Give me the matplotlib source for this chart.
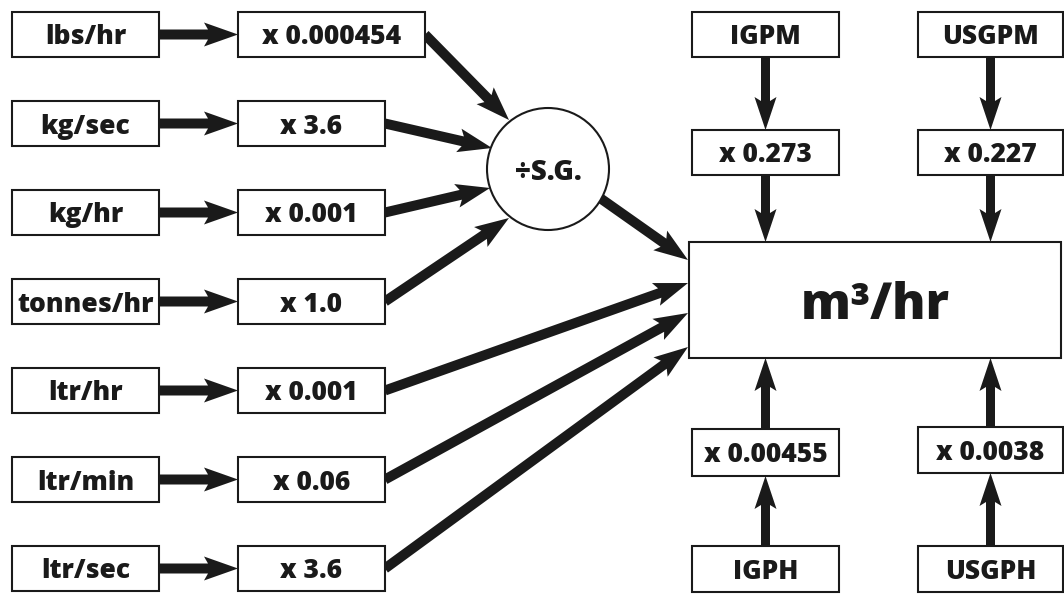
import numpy as np
import matplotlib
matplotlib.use("Agg")
import matplotlib.pyplot as plt
from matplotlib.patches import Rectangle, Circle, Polygon

# labels of the diagram
left_units = ['lbs/hr', 'kg/sec', 'kg/hr', 'tonnes/hr', 'ltr/hr', 'ltr/min', 'ltr/sec']
left_factors = ['x 0.000454', 'x 3.6', 'x 0.001', 'x 1.0', 'x 0.001', 'x 0.06', 'x 3.6']
via_sg = [True, True, True, True, False, False, False]
top_units = ['IGPM', 'USGPM']
top_factors = ['x 0.273', 'x 0.227']
bottom_units = ['IGPH', 'USGPH']
bottom_factors = ['x 0.00455', 'x 0.0038']
result_label = 'm\u00b3/hr'
sg_label = '\u00f7S.G.'

INK = '#1a1a1a'
FONT = 'Open Sans'
WEIGHT = 800

fig = plt.figure(figsize=(10.64, 5.97), dpi=100)
ax = fig.add_axes([0, 0, 1, 1])
ax.set_xlim(0, 1064)
ax.set_ylim(597, 0)
ax.set_aspect('equal')
ax.axis('off')


def box(x0, y0, x1, y1, text, size=19):
    ax.add_patch(Rectangle((x0, y0), x1 - x0, y1 - y0, facecolor='white',
                           edgecolor=INK, lw=1.5, zorder=2))
    ax.text((x0 + x1) / 2, (y0 + y1) / 2, text, ha='center', va='center_baseline',
            fontsize=size, fontweight=WEIGHT, family=FONT, color=INK, zorder=3)


def arrow(x0, y0, x1, y1, w=10, hw=24, hl=34, notch=4):
    p0 = np.array([x0, y0], float)
    p1 = np.array([x1, y1], float)
    d = (p1 - p0) / np.hypot(*(p1 - p0))
    n = np.array([-d[1], d[0]])
    back = p1 - d * hl
    mid = back + d * notch
    pts = [p0 + n * w / 2, mid + n * w / 2, back + n * hw / 2, p1,
           back - n * hw / 2, mid - n * w / 2, p0 - n * w / 2]
    ax.add_patch(Polygon(pts, closed=True, facecolor=INK, edgecolor='none', zorder=1))


# left column
row_h = 45
row_y = [12 + i * 89 for i in range(len(left_units))]
circ_c = (548, 169)
circ_r = 61
res = (689, 242, 1061, 358)

sg_tips = [(509, 120), (492, 148), (490, 188), (509, 218)]
res_tips = [(688, 283), (688, 313), (688, 347)]

k_sg = 0
k_res = 0
for i, (u, f) in enumerate(zip(left_units, left_factors)):
    y0 = row_y[i]
    yc = y0 + row_h / 2
    box(12, y0, 159, y0 + row_h, u)
    xr = 425 if i == 0 else 385
    box(238, y0, xr, y0 + row_h, f)
    arrow(159, yc, 238, yc)
    if via_sg[i]:
        tx, ty = sg_tips[k_sg]
        arrow(xr, yc, tx, ty)
        k_sg += 1
    else:
        tx, ty = res_tips[k_res]
        arrow(xr, yc, tx, ty)
        k_res += 1

# S.G. circle
ax.add_patch(Circle(circ_c, circ_r, facecolor='white', edgecolor=INK, lw=1.5, zorder=2))
ax.text(circ_c[0], circ_c[1], sg_label, ha='center', va='center_baseline', fontsize=20,
        fontweight=WEIGHT, family=FONT, color=INK, zorder=3)
arrow(600, 198, 688, 260)

# result box
box(res[0], res[1], res[2], res[3], result_label, size=36)

# top and bottom columns
cols = [(692, 839), (918, 1063)]
bottom_mid = [(429, 476), (427, 473)]
for j, (xa, xb) in enumerate(cols):
    xc = (xa + xb) / 2
    box(xa, 12, xb, 57, top_units[j])
    box(xa, 130, xb, 175, top_factors[j])
    arrow(xc, 57, xc, 130, w=9, hw=22, hl=33)
    arrow(xc, 175, xc, res[1], w=9, hw=22, hl=33)
    m0, m1 = bottom_mid[j]
    box(xa, 546, xb, 592, bottom_units[j])
    box(xa, m0, xb, m1, bottom_factors[j])
    arrow(xc, 546, xc, m1, w=9, hw=22, hl=33)
    arrow(xc, m0, xc, res[3], w=9, hw=22, hl=33)

fig.savefig('out.png', dpi=100, facecolor='white')
